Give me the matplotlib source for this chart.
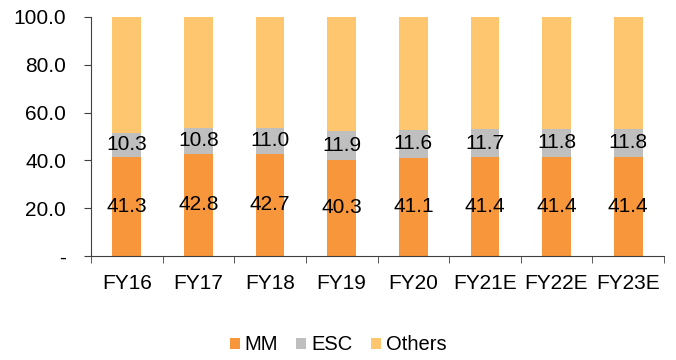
import matplotlib
matplotlib.use("Agg")
import matplotlib.pyplot as plt
import numpy as np

plt.rcParams['font.family'] = ['Liberation Sans', 'DejaVu Sans']

categories = ["FY16", "FY17", "FY18", "FY19", "FY20", "FY21E", "FY22E", "FY23E"]
mm = [41.3, 42.8, 42.7, 40.3, 41.1, 41.4, 41.4, 41.4]
esc = [10.3, 10.8, 11.0, 11.9, 11.6, 11.7, 11.8, 11.8]
others = [100 - a - b for a, b in zip(mm, esc)]

c_mm = "#F7963A"
c_esc = "#BFBFBF"
c_oth = "#FFC670"

fig = plt.figure(figsize=(6.76, 3.6), dpi=100)
ax = fig.add_axes([91 / 676, 1 - 256 / 360, 573 / 676, 239 / 360])

x = np.arange(len(categories))
w = 0.4
ax.bar(x, mm, w, color=c_mm, label="MM")
ax.bar(x, esc, w, bottom=mm, color=c_esc, label="ESC")
ax.bar(x, others, w, bottom=np.array(mm) + np.array(esc), color=c_oth, label="Others")

fs = 15
for i in range(len(categories)):
    ax.text(x[i], mm[i] / 2, f"{mm[i]:.1f}", ha="center", va="center", fontsize=fs)
    ax.text(x[i], mm[i] + esc[i] / 2, f"{esc[i]:.1f}", ha="center", va="center", fontsize=fs)

ax.set_xlim(-0.5, len(categories) - 0.5)
ax.set_ylim(0, 100)
ax.set_yticks(np.arange(0, 101, 20))
ax.set_yticklabels(["-"] + [f"{v:.1f}" for v in np.arange(20, 101, 20)], fontsize=fs)
ax.set_xticks(x)
ax.set_xticklabels(categories, fontsize=fs)
ax.tick_params(axis="x", length=0, pad=13)
ax.set_xticks(np.arange(-0.5, len(categories), 1), minor=True)
ax.tick_params(axis="x", which="minor", length=5, color="#404040")
ax.tick_params(axis="y", length=5, color="#404040", pad=13)
for s in ["top", "right"]:
    ax.spines[s].set_visible(False)
for s in ["left", "bottom"]:
    ax.spines[s].set_color("#404040")

fig.legend(loc="center", bbox_to_anchor=(0.5, 1 - 345 / 360), ncol=3, frameon=False,
           fontsize=14.5, handlelength=0.5, handleheight=0.5, columnspacing=0.9,
           handletextpad=0.25)

fig.savefig("out.png", dpi=100)
